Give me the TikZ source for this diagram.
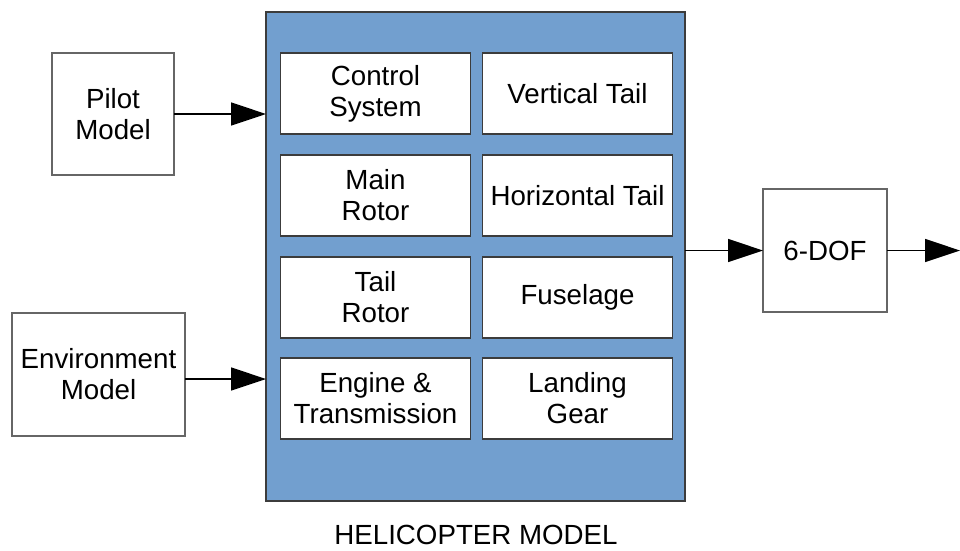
\documentclass[tikz,border=0pt]{standalone}
\usepackage{fontspec}
\setmainfont{Liberation Sans}
\usetikzlibrary{arrows.meta}
\definecolor{heliblue}{HTML}{729FCF}
\definecolor{boxline}{HTML}{666666}
\definecolor{innerline}{HTML}{3C3C3C}
\begin{document}
\begin{tikzpicture}[x=1pt,y=-1pt,
  every node/.style={inner sep=0pt, outer sep=0pt, align=center,
    font=\fontsize{27.7}{31}\selectfont},
  outerbox/.style={draw=boxline, line width=1.8pt, fill=white},
  partbox/.style={draw=innerline, line width=1.6pt, fill=white,
    minimum width=190pt, minimum height=81pt},
  flow/.style={line width=1.5pt, -{Triangle[length=35pt,width=23pt]}}]
\useasboundingbox (0,0) rectangle (960,550);

% external blocks
\node[outerbox, minimum width=122pt, minimum height=122pt] (pilot) at (113,114) {Pilot\\Model};
\node[outerbox, minimum width=173pt, minimum height=123pt] (env) at (98.5,374.5) {Environment\\Model};
\node[outerbox, minimum width=124pt, minimum height=123pt] (dof) at (825,250.5) {6-DOF};

% helicopter model container
\node[draw=innerline, line width=1.6pt, fill=heliblue, minimum width=419pt, minimum height=489pt] (heli) at (475.5,256.5) {};
\node (title) at (476,535) {HELICOPTER MODEL};

% component blocks
\node[partbox] (ctrl)  at (375.5,93.5)  {Control\\System};
\node[partbox] (vtail) at (577.5,93.5)  {Vertical Tail};
\node[partbox] (mrot)  at (375.5,195.5) {Main\\Rotor};
\node[partbox] (htail) at (577.5,195.5) {Horizontal Tail};
\node[partbox] (trot)  at (375.5,297.5) {Tail\\Rotor};
\node[partbox] (fus)   at (577.5,297.5) {Fuselage};
\node[partbox] (eng)   at (375.5,398.5) {Engine \&\\Transmission};
\node[partbox] (gear)  at (577.5,398.5) {Landing\\Gear};

% signal flow
\coordinate (out) at (960,250.5);
\draw[flow] (pilot.east) -- (pilot.east -| heli.west);
\draw[flow] ([yshift=-4.5pt]env.east) -- ([yshift=-4.5pt]env.east -| heli.west);
\draw[flow] (heli.east |- dof.west) -- (dof.west);
\draw[flow] (dof.east) -- (out);
\end{tikzpicture}
\end{document}
